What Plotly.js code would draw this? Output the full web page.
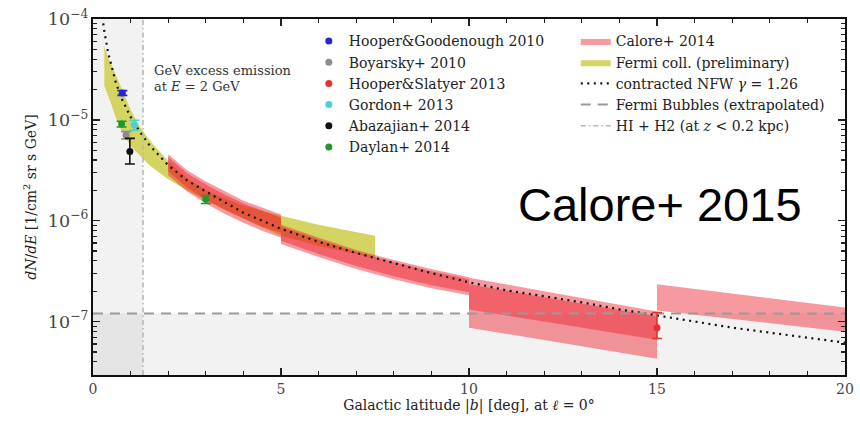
<!DOCTYPE html>
<html>
<head>
<meta charset="utf-8">
<script src="https://cdn.plot.ly/plotly-3.0.1.min.js"></script>
<style>
  html, body { margin: 0; padding: 0; background: #fff; }
  #chart { width: 860px; height: 428px; }
</style>
</head>
<body>
<div id="chart"></div>
<script>
// Galactic latitude profile of the GeV excess at E = 2 GeV (l = 0)

// --- measurements with error bars ---
const hgX = [0.78],  hgY = [1.85e-5], hgErr = [1.0e-6];
const boyX = [0.88], boyY = [7.05e-6], boyErr = [6.0e-7];
const hsX = [15.0],  hsY = [8.7e-8],  hsErrUp = [3.6e-8], hsErrDown = [1.9e-8];
const gorX = [1.1],  gorY = [8.9e-6], gorErr = [1.0e-6];
const abaX = [0.98], abaY = [4.85e-6], abaErrUp = [1.7e-6], abaErrDown = [1.2e-6];
const dayX = [0.76, 3.0], dayY = [9.1e-6, 1.63e-6], dayErr = [6.0e-7, 1.5e-7];

// --- contracted NFW profile, gamma = 1.26 ---
const nfwX = [0.25, 0.3, 0.4, 0.5, 0.6, 0.75, 1.0, 1.25, 1.5, 2.0, 2.5, 3.0, 4.0, 5.0, 6.0,
              7.0, 8.0, 9.0, 10, 11, 12, 13, 14, 15, 16, 17, 18, 19, 20];
const nfwY = [1.047e-4, 7.59e-5, 4.68e-5, 3.24e-5, 2.40e-5, 1.66e-5, 1.07e-5, 7.59e-6, 5.62e-6,
              3.55e-6, 2.51e-6, 1.95e-6, 1.20e-6, 8.32e-7, 6.17e-7, 4.79e-7, 3.80e-7, 3.02e-7,
              2.45e-7, 2.04e-7, 1.78e-7, 1.55e-7, 1.32e-7, 1.15e-7, 1.0e-7, 8.71e-8, 7.76e-8,
              6.92e-8, 6.17e-8];

// --- Fermi collaboration (preliminary) band ---
const fermiX     = [0.3, 0.4, 0.5, 0.6, 0.75, 1.0, 1.25, 1.5, 2.0, 2.5, 3.0, 4.0, 5.0, 6.0, 7.5];
const fermiUpper = [5.37e-5, 4.17e-5, 3.47e-5, 2.82e-5, 2.09e-5, 1.26e-5, 8.51e-6, 6.31e-6,
                    3.89e-6, 2.63e-6, 2.0e-6, 1.41e-6, 1.12e-6, 9.12e-7, 7.08e-7];
const fermiLower = [2.19e-5, 1.78e-5, 1.38e-5, 1.07e-5, 7.94e-6, 5.5e-6, 4.47e-6, 3.55e-6,
                    2.57e-6, 2.0e-6, 1.58e-6, 1.05e-6, 7.08e-7, 5.62e-7, 4.27e-7];

// --- Calore+ 2014 bands (per latitude window, two overlapping estimates) ---
const caloreAX  = [2.0, 2.5, 3.0, 3.5, 4.0, 4.5, 5.0];
const caloreA1U = [4.57e-6, 3.16e-6, 2.45e-6, 1.95e-6, 1.58e-6, 1.35e-6, 1.15e-6];
const caloreA1L = [3.09e-6, 2.14e-6, 1.62e-6, 1.29e-6, 1.05e-6, 8.71e-7, 7.59e-7];
const caloreA2U = [4.27e-6, 2.95e-6, 2.29e-6, 1.82e-6, 1.48e-6, 1.26e-6, 1.07e-6];
const caloreA2L = [2.82e-6, 1.95e-6, 1.48e-6, 1.17e-6, 9.55e-7, 7.94e-7, 6.76e-7];

const caloreBX  = [5.0, 6.0, 7.0, 8.0, 9.0, 10.0];
const caloreB1U = [9.12e-7, 6.76e-7, 5.13e-7, 4.07e-7, 3.31e-7, 2.75e-7];
const caloreB1L = [6.31e-7, 4.68e-7, 3.55e-7, 2.82e-7, 2.29e-7, 1.95e-7];
const caloreB2U = [8.71e-7, 6.46e-7, 4.90e-7, 3.89e-7, 3.16e-7, 2.63e-7];
const caloreB2L = [5.89e-7, 4.37e-7, 3.31e-7, 2.63e-7, 2.14e-7, 1.82e-7];

const caloreCX  = [10.0, 15.0];
const caloreC1U = [2.72e-7, 1.26e-7];
const caloreC1L = [1.32e-7, 6.6e-8];
const caloreC2U = [2.34e-7, 1.12e-7];
const caloreC2L = [8.7e-8, 4.27e-8];

const caloreDX  = [15.0, 20.0];
const caloreDU  = [2.34e-7, 1.38e-7];
const caloreDL  = [1.29e-7, 7.94e-8];

// --- reference levels ---
const bubbleLevel = 1.2e-7;   // Fermi Bubbles, extrapolated
const hiH2Edge = 1.33;        // |b| below which HI + H2 (z < 0.2 kpc) dominates

const xRange = [0, 20];
const yRange = [-7.53, -4];   // log10 units
const yBottom = Math.pow(10, yRange[0]);
const yTop = Math.pow(10, yRange[1]);

const SERIF = 'DejaVu Serif, Liberation Serif, serif';
const SANS = 'Liberation Sans, Arial, sans-serif';
const CALORE_FILL = 'rgba(235,32,42,0.45)';
const SHADE = 'rgba(0,0,0,0.052)';

function band(x, upper, lower) {
  return {
    x: x.concat(x.slice().reverse()),
    y: upper.concat(lower.slice().reverse())
  };
}

const traces = [];

// shaded regions: gas-dominated strip and the region below the Fermi Bubbles level
traces.push({
  type: 'scatter', mode: 'lines', x: [xRange[0], hiH2Edge, hiH2Edge, xRange[0]],
  y: [yBottom, yBottom, yTop, yTop], fill: 'toself', fillcolor: SHADE,
  line: {width: 0, color: 'rgba(0,0,0,0)'}, showlegend: false, hoverinfo: 'skip'
});
traces.push({
  type: 'scatter', mode: 'lines', x: [xRange[0], xRange[1], xRange[1], xRange[0]],
  y: [yBottom, yBottom, bubbleLevel, bubbleLevel], fill: 'toself', fillcolor: SHADE,
  line: {width: 0, color: 'rgba(0,0,0,0)'}, showlegend: false, hoverinfo: 'skip'
});

// Fermi band
const fb = band(fermiX, fermiUpper, fermiLower);
traces.push({
  type: 'scatter', mode: 'lines', x: fb.x, y: fb.y, fill: 'toself',
  fillcolor: 'rgb(212,212,98)', line: {width: 0, color: 'rgba(0,0,0,0)'},
  name: 'Fermi coll. (preliminary)', legend: 'legend2', legendrank: 2, hoverinfo: 'skip'
});

// Calore bands
const caloreSets = [
  [caloreAX, caloreA1U, caloreA1L], [caloreAX, caloreA2U, caloreA2L],
  [caloreBX, caloreB1U, caloreB1L], [caloreBX, caloreB2U, caloreB2L],
  [caloreCX, caloreC1U, caloreC1L], [caloreCX, caloreC2U, caloreC2L],
  [caloreDX, caloreDU, caloreDL]
];
caloreSets.forEach(function (s, i) {
  const b = band(s[0], s[1], s[2]);
  traces.push({
    type: 'scatter', mode: 'lines', x: b.x, y: b.y, fill: 'toself',
    fillcolor: CALORE_FILL, line: {width: 0, color: 'rgba(0,0,0,0)'},
    name: 'Calore+ 2014', legend: 'legend2', legendrank: 1,
    legendgroup: 'calore', showlegend: i === 0, hoverinfo: 'skip'
  });
});

// NFW profile
traces.push({
  type: 'scatter', mode: 'lines', x: nfwX, y: nfwY,
  line: {color: '#111', width: 2.2, dash: '2px,4.5px'},
  name: 'contracted NFW <i>γ</i> = 1.26', legend: 'legend2', legendrank: 3
});

// Fermi Bubbles level
traces.push({
  type: 'scatter', mode: 'lines', x: xRange, y: [bubbleLevel, bubbleLevel],
  line: {color: '#9a9a9a', width: 2, dash: '10px,7px'},
  name: 'Fermi Bubbles (extrapolated)', legend: 'legend2', legendrank: 4
});

// HI + H2 boundary
traces.push({
  type: 'scatter', mode: 'lines', x: [hiH2Edge, hiH2Edge], y: [yBottom, yTop],
  line: {color: '#b8b8b8', width: 1.6, dash: '5px,3px,1.5px,3px'},
  name: 'HI + H2 (at <i>z</i> < 0.2 kpc)', legend: 'legend2', legendrank: 5
});

function pts(name, x, y, color, err, rank) {
  return {
    type: 'scatter', mode: 'markers', x: x, y: y, name: name,
    marker: {color: color, size: 7},
    error_y: Object.assign({type: 'data', color: color, thickness: 1.6, width: 5}, err),
    legend: 'legend', legendrank: rank
  };
}
traces.push(pts('Hooper&amp;Goodenough 2010', hgX, hgY, '#2424d6', {array: hgErr}, 1));
traces.push(pts('Boyarsky+ 2010', boyX, boyY, '#8c8c8c', {array: boyErr}, 2));
traces.push(pts('Hooper&amp;Slatyer 2013', hsX, hsY, '#e8302e',
  {symmetric: false, array: hsErrUp, arrayminus: hsErrDown}, 3));
traces.push(pts('Gordon+ 2013', gorX, gorY, '#48d2d0', {array: gorErr}, 4));
traces.push(pts('Abazajian+ 2014', abaX, abaY, '#111111',
  {symmetric: false, array: abaErrUp, arrayminus: abaErrDown}, 5));
traces.push(pts('Daylan+ 2014', dayX, dayY, '#1f9a2a', {array: dayErr}, 6));

const axisCommon = {
  showline: true, linecolor: '#111', linewidth: 2, mirror: 'ticks',
  ticks: 'inside', ticklen: 7, tickwidth: 1.4, tickcolor: '#222',
  showgrid: false, zeroline: false,
  tickfont: {family: SERIF, size: 14, color: '#444'}
};

const layout = {
  width: 860, height: 428,
  margin: {l: 93, r: 15, t: 19, b: 53},
  paper_bgcolor: '#fff', plot_bgcolor: '#fff',
  font: {family: SERIF, color: '#222'},
  xaxis: Object.assign({}, axisCommon, {
    range: xRange, tick0: 0, dtick: 5,
    minor: {dtick: 1, ticks: 'inside', ticklen: 4, tickcolor: '#222', tickwidth: 1.2},
    title: {text: 'Galactic latitude |<i>b</i>| [deg], at <i>ℓ</i> = 0°',
            font: {family: SERIF, size: 14, color: '#222'}, standoff: 0}
  }),
  yaxis: Object.assign({}, axisCommon, {
    type: 'log', range: yRange, dtick: 1, exponentformat: 'power',
    minor: {dtick: 'D1', ticks: 'inside', ticklen: 4, tickcolor: '#222', tickwidth: 1.2},
    title: {text: '<i>dN</i>/<i>dE</i> [1/cm<sup>2</sup> sr s GeV]',
            font: {family: SERIF, size: 14, color: '#222'}, standoff: 8}
  }),
  legend: {
    x: 0.287, y: 0.982, xanchor: 'left', yanchor: 'top',
    bgcolor: 'rgba(0,0,0,0)', borderwidth: 0,
    font: {family: SERIF, size: 14, color: '#222'}, traceorder: 'normal'
  },
  legend2: {
    x: 0.642, y: 0.982, xanchor: 'left', yanchor: 'top',
    bgcolor: 'rgba(0,0,0,0)', borderwidth: 0,
    font: {family: SERIF, size: 14, color: '#222'}, traceorder: 'normal'
  },
  annotations: [
    {xref: 'paper', yref: 'paper', x: 0.0785, y: 0.854, xanchor: 'left', yanchor: 'middle',
     text: 'GeV excess emission', showarrow: false,
     font: {family: SERIF, size: 13, color: '#333'}},
    {xref: 'paper', yref: 'paper', x: 0.0785, y: 0.811, xanchor: 'left', yanchor: 'middle',
     text: 'at <i>E</i> = 2 GeV', showarrow: false,
     font: {family: SERIF, size: 13, color: '#333'}},
    {xref: 'paper', yref: 'paper', x: 0.754, y: 0.478, xanchor: 'center', yanchor: 'middle',
     text: 'Calore+ 2015', showarrow: false,
     font: {family: SANS, size: 47, color: '#000'}}
  ],
  showlegend: true
};

Plotly.newPlot('chart', traces, layout, {displayModeBar: false, staticPlot: true});
</script>
</body>
</html>
